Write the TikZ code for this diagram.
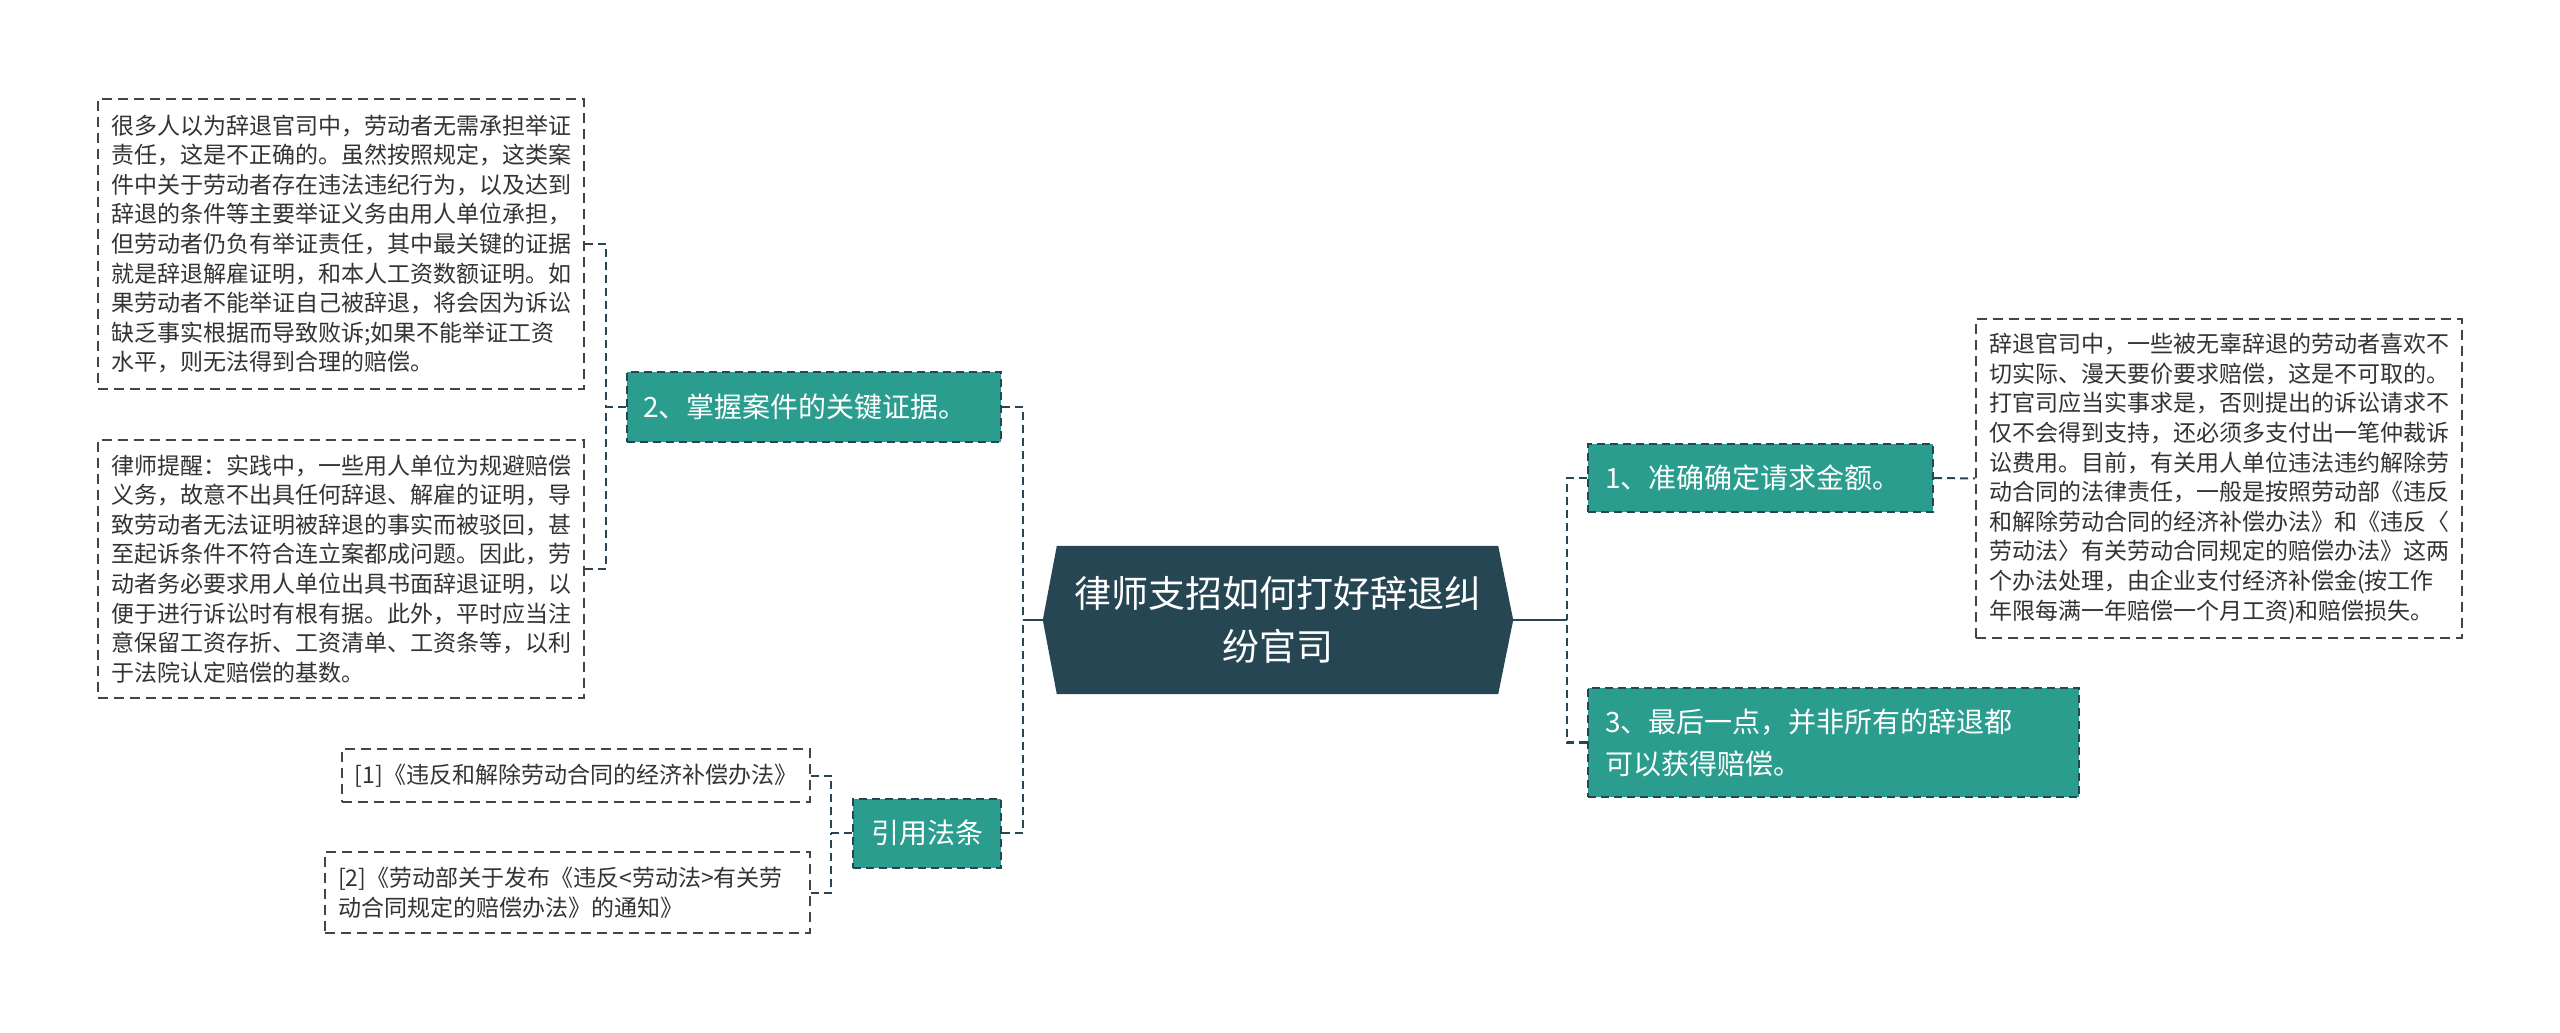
\documentclass[tikz,border=0pt]{standalone}
\usepackage{fontspec}
\setmainfont{Noto Sans CJK SC}
\usetikzlibrary{calc,backgrounds}
\definecolor{dark}{HTML}{264653}
\definecolor{branchfill}{HTML}{2A9D8F}
\definecolor{txt}{HTML}{333333}
\definecolor{boxline}{HTML}{444444}
\tikzset{
  textbox/.style={draw=boxline, dash pattern=on 10pt off 6pt, line width=1.6pt, fill=white, text=txt, inner sep=0pt, align=left, font=\fontsize{23}{29.6}\selectfont},
  branch/.style={draw=dark, dash pattern=on 8pt off 5pt, line width=2pt, fill=branchfill, text=white, inner sep=0pt, align=left, font=\fontsize{28}{42}\selectfont},
  conn1/.style={draw=dark, line width=2.7pt, dash pattern=on 8pt off 5pt},
  conn2/.style={draw=dark, line width=2pt, dash pattern=on 8pt off 5pt},
  connsolid/.style={draw=dark, line width=2.7pt},
}
\begin{document}
\begin{tikzpicture}[x=1pt,y=-1pt]
\useasboundingbox (0,0) rectangle (2560,1033);

% central topic
\node[minimum width=441pt, minimum height=148pt, inner sep=0pt, text=white, align=center, font=\fontsize{37}{53}\selectfont] (c) at (1277.5,620) {律师支招如何打好辞退纠\\纷官司};
\coordinate (cL) at ($(c.west)+(-14,0)$);
\coordinate (cR) at ($(c.east)+(15,0)$);
\begin{pgfonlayer}{background}
  \fill[white] (0,0) rectangle (2560,1033);
  \fill[dark] (cL) -- (c.north west) -- (c.north east) -- (cR) -- (c.south east) -- (c.south west) -- cycle;
\end{pgfonlayer}

% right branches
\node[branch, minimum width=345pt, minimum height=68pt, text width=311pt] (n1) at (1760.5,478) {1、准确确定请求金额。};
\node[branch, minimum width=491pt, minimum height=109pt, text width=457pt] (n3) at (1833.5,742.5) {3、最后一点，并非所有的辞退都\\可以获得赔偿。};
\node[textbox, minimum width=486pt, minimum height=319pt, text width=460pt] (rb) at (2219,478.5) {辞退官司中，一些被无辜辞退的劳动者喜欢不\\切实际、漫天要价要求赔偿，这是不可取的。\\打官司应当实事求是，否则提出的诉讼请求不\\仅不会得到支持，还必须多支付出一笔仲裁诉\\讼费用。目前，有关用人单位违法违约解除劳\\动合同的法律责任，一般是按照劳动部《违反\\和解除劳动合同的经济补偿办法》和《违反〈\\劳动法〉有关劳动合同规定的赔偿办法》这两\\个办法处理，由企业支付经济补偿金(按工作\\年限每满一年赔偿一个月工资)和赔偿损失。};

% left branches
\node[branch, minimum width=374pt, minimum height=70pt, text width=342pt] (n2) at (814,407) {2、掌握案件的关键证据。};
\node[branch, minimum width=148pt, minimum height=69pt, align=center] (law) at (927,833) {引用法条};

\node[textbox, minimum width=486pt, minimum height=290pt, text width=460pt] (b1) at (341,244) {很多人以为辞退官司中，劳动者无需承担举证\\责任，这是不正确的。虽然按照规定，这类案\\件中关于劳动者存在违法违纪行为，以及达到\\辞退的条件等主要举证义务由用人单位承担，\\但劳动者仍负有举证责任，其中最关键的证据\\就是辞退解雇证明，和本人工资数额证明。如\\果劳动者不能举证自己被辞退，将会因为诉讼\\缺乏事实根据而导致败诉;如果不能举证工资\\水平，则无法得到合理的赔偿。};
\node[textbox, minimum width=486pt, minimum height=258pt, text width=460pt] (b2) at (341,569) {律师提醒：实践中，一些用人单位为规避赔偿\\义务，故意不出具任何辞退、解雇的证明，导\\致劳动者无法证明被辞退的事实而被驳回，甚\\至起诉条件不符合连立案都成问题。因此，劳\\动者务必要求用人单位出具书面辞退证明，以\\便于进行诉讼时有根有据。此外，平时应当注\\意保留工资存折、工资清单、工资条等，以利\\于法院认定赔偿的基数。};

\node[textbox, minimum width=468pt, minimum height=53pt, align=center] (r1) at (576,775.5) {[1]《违反和解除劳动合同的经济补偿办法》};
\node[textbox, minimum width=485pt, minimum height=81pt, text width=459pt] (r2) at (567.5,892.5) {[2]《劳动部关于发布《违反<劳动法>有关劳\\动合同规定的赔偿办法》的通知》};

% trunk coordinates
\coordinate (tR) at (1567,620);
\coordinate (tL) at (1023,620);
\coordinate (t2) at (606,407);
\coordinate (tLaw) at (831,833);

% connectors
\draw[connsolid] (cR) -- (tR);
\draw[conn1] (n1.west) -| (tR);
\draw[conn1] (n3.west) -| (tR);
\draw[conn2] (n1.east) -- (rb.west);

\draw[connsolid] (cL) -- (tL);
\draw[conn1] (n2.east) -| (tL);
\draw[conn1] (law.east) -| (tL);

\draw[conn2] (b1.east) -| (t2);
\draw[conn2] (b2.east) -| (t2);
\draw[conn2] (n2.west) -- (t2);

\draw[conn2] (r1.east) -| (tLaw);
\draw[conn2] (r2.east) -| (tLaw);
\draw[conn2] (law.west) -- (tLaw);
\end{tikzpicture}
\end{document}
